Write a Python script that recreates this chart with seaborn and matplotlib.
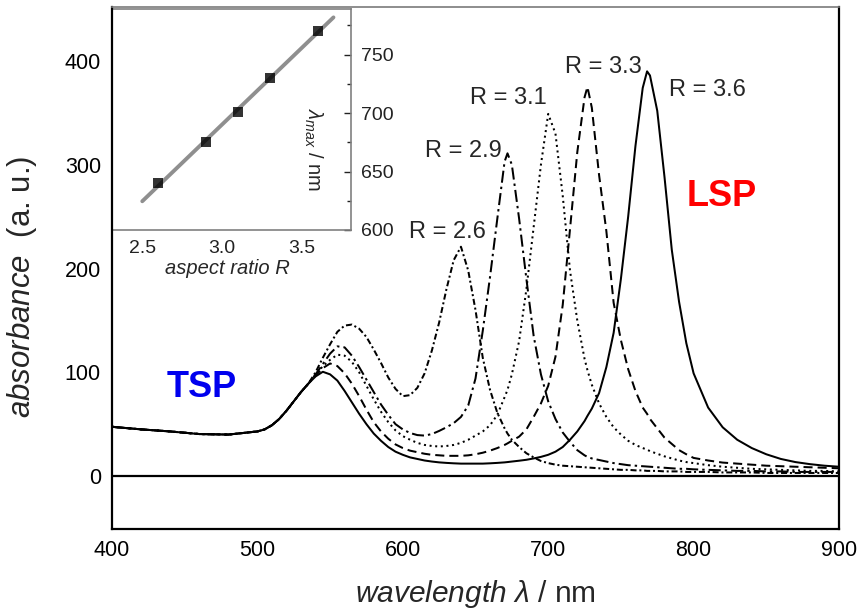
import numpy as np
import pandas as pd
import matplotlib
matplotlib.use("Agg")
import matplotlib.pyplot as plt
from matplotlib.ticker import MultipleLocator
import seaborn as sns

# ---- extinction spectra of gold nanorods for several aspect ratios ----
wavelength = [
    400, 420, 440, 460, 480,
    500, 505, 510, 515, 520, 525, 530, 535, 540, 545,
    550, 555, 560, 565, 570, 575, 580, 585, 590, 595,
    600, 605, 610, 615, 620, 625, 630, 635, 640, 645,
    650, 655, 660, 665, 670, 672, 675, 680, 685, 690,
    695, 700, 705, 710, 715, 720, 725, 727, 730, 735,
    740, 745, 750, 755, 760, 765, 768, 770, 775, 780,
    785, 790, 795, 800, 810, 820, 830, 840, 850, 860,
    870, 880, 890, 900,
]

abs_r26 = [
    47.5, 45, 43, 40.5, 40,
    43, 45, 49, 55, 63, 72, 81, 89, 100, 114,
    127, 139, 145, 146, 142, 134, 122, 109, 95, 84,
    77, 78, 85, 99, 121, 148, 180, 208, 221, 198,
    160, 114, 83, 61, 46, 41, 35, 28, 22, 18,
    14.5, 12.5, 11, 10, 9.5, 9, 8.5, 8.3, 8, 7.5,
    7, 6.5, 6, 6, 5.5, 5.5, 5, 5, 5, 4.5,
    4.5, 4.5, 4, 4, 4, 3.5, 3.5, 3.5, 3, 3,
    3, 3, 3, 3,
]

abs_r29 = [
    47.5, 45, 43, 40.5, 40,
    43, 45, 49, 55, 63, 72, 81, 89, 98, 108,
    118, 125, 124, 116, 105, 93, 81, 69, 59, 50,
    45, 41.5, 39.5, 39, 40.5, 43.5, 47, 51, 57, 68,
    94, 140, 192, 248, 303, 311, 300, 248, 190, 135,
    98, 72, 55, 42, 33, 25, 20, 18.5, 17, 15.5,
    14, 12.5, 11.5, 10.5, 10, 9.5, 9.2, 9, 8.5, 8,
    7.5, 7, 7, 6.5, 6, 5.5, 5, 5, 4.5, 4.5,
    4, 4, 4, 4,
]

abs_r31 = [
    47.5, 45, 43, 40.5, 40,
    43, 45, 49, 55, 63, 72, 81, 89, 97, 106,
    112, 117, 116, 110, 100, 87, 74, 62, 52, 44,
    38.5, 35, 32, 30, 29, 28.5, 29, 30, 32, 35,
    39, 43, 49, 59, 76, 83, 98, 130, 180, 240,
    300, 349, 330, 270, 198, 150, 113, 102, 88, 70,
    57, 47, 40, 34, 30, 27, 25.5, 24, 21.5, 19,
    17, 15, 13.5, 12.5, 10.5, 9, 8, 7, 6.5, 6,
    5.5, 5, 5, 4.5,
]

abs_r33 = [
    47.5, 45, 43, 40.5, 40,
    43, 45, 49, 55, 63, 72, 81, 89, 97, 104,
    108.5, 106, 99, 89, 77, 64, 52, 43, 36, 30.5,
    27, 24.5, 23, 21.5, 20.5, 20, 19.5, 19.5, 19.5, 20,
    21, 22.5, 24.5, 27, 30, 31.5, 34, 38, 45, 57,
    70, 87, 115, 165, 238, 312, 365, 375, 355, 290,
    236, 167, 131, 103, 82, 66, 60, 55, 46, 37,
    31, 25, 21, 17.5, 15, 13, 12, 11, 10, 9.5,
    9, 8.5, 8, 7.5,
]

abs_r36 = [
    47.5, 45, 43, 40.5, 40,
    43, 45, 49, 55, 63, 72, 81, 89, 96, 100.5,
    98, 92, 82, 71, 60, 50, 41, 34, 28, 23.5,
    20.5, 18, 16.5, 15, 14, 13.2, 12.7, 12.3, 12, 12,
    12, 12, 12.3, 12.7, 13.2, 13.5, 14, 14.8, 15.7, 17,
    18.5, 20.5, 23.5, 28, 35, 43, 53, 58, 65, 80,
    105, 138, 190, 250, 318, 374, 390, 386, 352, 288,
    218, 168, 128, 99, 66, 47, 35, 27, 21, 16.5,
    13.5, 11.5, 10, 9,
]

ratio_labels = ["R = 2.6", "R = 2.9", "R = 3.1", "R = 3.3", "R = 3.6"]

# ---- longitudinal peak position versus aspect ratio (inset) ----
aspect_ratio = [2.6, 2.9, 3.1, 3.3, 3.6]
lambda_max = [640, 675, 701, 730, 770]

x_ticks = [400, 500, 600, 700, 800, 900]
y_ticks = [0, 100, 200, 300, 400]
inset_x_ticks = [2.5, 3.0, 3.5]
inset_y_ticks = [600, 650, 700, 750]

# ---------------------------------------------------------------
sns.set_style("white")
plt.rcParams["font.family"] = ["Liberation Sans", "DejaVu Sans"]
plt.rcParams["mathtext.fontset"] = "custom"
plt.rcParams["mathtext.rm"] = "Liberation Sans"
plt.rcParams["mathtext.it"] = "Liberation Sans:italic"
plt.rcParams["mathtext.bf"] = "Liberation Sans:bold"

series = [abs_r26, abs_r29, abs_r31, abs_r33, abs_r36]
spectra = pd.concat(
    [pd.DataFrame({"wavelength": wavelength, "absorbance": vals, "ratio": lab})
     for lab, vals in zip(ratio_labels, series)],
    ignore_index=True,
)

fig = plt.figure(figsize=(8.59, 6.13), dpi=100)
ax = fig.add_axes([0.13038, 0.13703, 0.84634, 0.85155])
ax.patch.set_alpha(0)
ax.set_zorder(2)

dash_styles = {
    "R = 2.6": (3, 1.4, 1, 1.4),
    "R = 2.9": (6, 2, 1.2, 2),
    "R = 3.1": (1, 1.8),
    "R = 3.3": (4.5, 2.5),
    "R = 3.6": "",
}
sns.lineplot(
    data=spectra, x="wavelength", y="absorbance",
    hue="ratio", style="ratio", dashes=dash_styles,
    palette=["black"] * 5, linewidth=1.45, legend=False, ax=ax,
    sort=False,
)
ax.axhline(0, color="black", lw=1.6, zorder=1)

ax.set_xlim(400, 900)
ax.set_ylim(-51, 452)
ax.set_xticks(x_ticks)
ax.set_yticks(y_ticks)
ax.xaxis.set_minor_locator(MultipleLocator(50))
ax.yaxis.set_minor_locator(MultipleLocator(50))
ax.tick_params(which="both", direction="in", top=False, right=False,
               labelsize=15.5, colors="black", width=1.3, pad=8)
ax.tick_params(which="major", length=8)
ax.tick_params(which="minor", length=4.5)
ax.set_xlabel("")
ax.set_ylabel("")
for side in ["left", "bottom", "right"]:
    ax.spines[side].set_color("black")
    ax.spines[side].set_linewidth(1.6)
ax.spines["top"].set_color("#7a7a7a")
ax.spines["top"].set_linewidth(1.2)

fig.text(475 / 859, 1 - 594 / 613, r"$\it{wavelength}$ $\it{\lambda}$ / nm",
         ha="center", va="center", fontsize=21.5)
fig.text(22 / 859, 1 - 287 / 613, r"$\it{absorbance}$  (a. u.)",
         ha="center", va="center", rotation=90, fontsize=22.5)

label_pos = {
    "R = 2.6": (630.4, 235),
    "R = 2.9": (641.4, 313),
    "R = 3.1": (672.3, 364),
    "R = 3.3": (737.7, 394),
    "R = 3.6": (809.2, 372),
}
for lab, (xx, yy) in label_pos.items():
    ax.text(xx, yy, lab, ha="center", va="center", fontsize=17)
ax.text(819.5, 269, "LSP", ha="center", va="center", fontsize=26,
        fontweight="bold", color="#ff0000")
ax.text(461.9, 85, "TSP", ha="center", va="center", fontsize=26,
        fontweight="bold", color="#0000ee")

# ---- inset ----
axin = fig.add_axes([0.13038, 0.62480, 0.27823, 0.36052])
axin.set_zorder(1)
axin.set_xlim(2.5, 3.7)
sns.regplot(
    x=aspect_ratio, y=lambda_max, ax=axin, ci=None, truncate=False,
    marker="s",
    scatter_kws=dict(s=60, color="black", zorder=3, linewidths=0),
    line_kws=dict(color="#8f8f8f", lw=2.8, zorder=2),
)
axin.set_xlim(2.31, 3.81)
axin.set_ylim(600, 789)
axin.set_xticks(inset_x_ticks)
axin.set_yticks(inset_y_ticks)
axin.xaxis.set_minor_locator(MultipleLocator(0.25))
axin.yaxis.set_minor_locator(MultipleLocator(25))
axin.yaxis.tick_right()
axin.tick_params(which="both", direction="in", left=False, right=True,
                 labelleft=False, labelright=True, labelsize=14,
                 width=1.0, colors="#222222", pad=7)
axin.tick_params(which="major", length=5)
axin.tick_params(which="minor", length=3)
for side in ["top", "right", "bottom"]:
    axin.spines[side].set_color("#808080")
    axin.spines[side].set_linewidth(1.2)
axin.spines["left"].set_visible(False)
axin.set_xlabel("")
axin.set_ylabel("")
axin.text(0.483, -0.172, "aspect ratio R", transform=axin.transAxes,
          ha="center", va="center", fontsize=14.5, style="italic")
axin.text(0.841, 0.362, r"$\lambda_{max}$ / nm", transform=axin.transAxes,
          ha="center", va="center", fontsize=14.5, rotation=-90)

fig.savefig("out.png", dpi=100)
